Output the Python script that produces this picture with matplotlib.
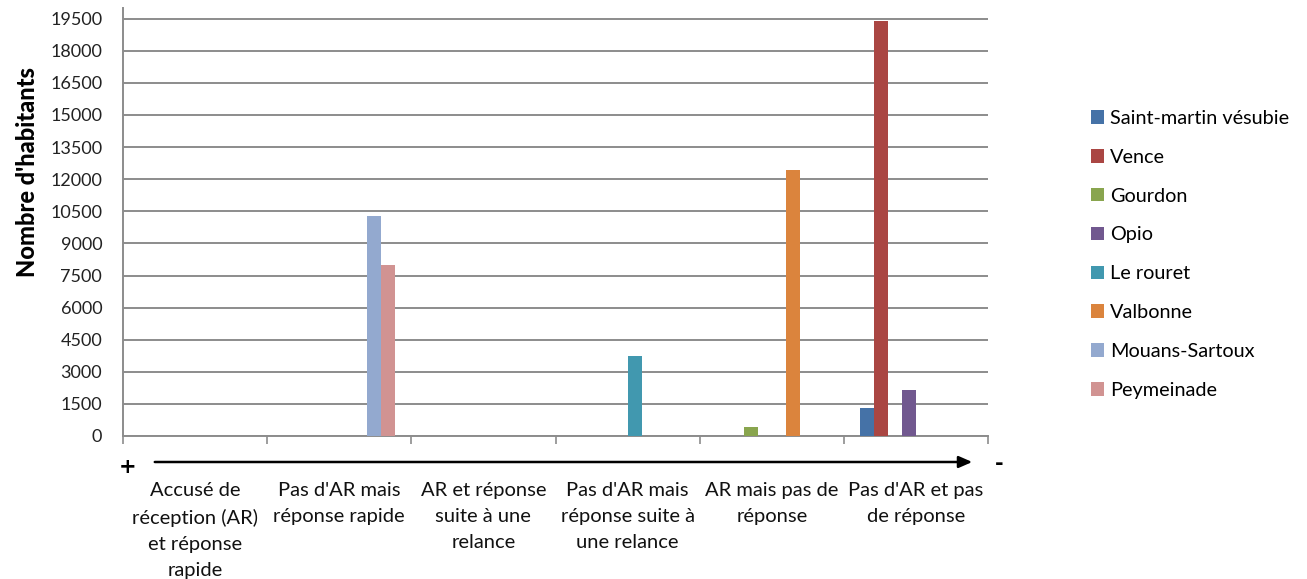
import matplotlib
matplotlib.use("Agg")
import matplotlib.pyplot as plt
import numpy as np

categories = [
    "Accusé de\nréception (AR)\net réponse\nrapide",
    "Pas d'AR mais\nréponse rapide",
    "AR et réponse\nsuite à une\nrelance",
    "Pas d'AR mais\nréponse suite à\nune relance",
    "AR mais pas de\nréponse",
    "Pas d'AR et pas\nde réponse",
]
communes = ["Saint-martin vésubie", "Vence", "Gourdon", "Opio",
            "Le rouret", "Valbonne", "Mouans-Sartoux", "Peymeinade"]
# inhabitants of each commune, placed in the category of its answer
saint_martin = [0, 0, 0, 0, 0, 1300]
vence = [0, 0, 0, 0, 0, 19400]
gourdon = [0, 0, 0, 0, 400, 0]
opio = [0, 0, 0, 0, 0, 2150]
le_rouret = [0, 0, 0, 3750, 0, 0]
valbonne = [0, 0, 0, 0, 12450, 0]
mouans = [0, 10300, 0, 0, 0, 0]
peymeinade = [0, 8000, 0, 0, 0, 0]
series = [saint_martin, vence, gourdon, opio, le_rouret, valbonne, mouans, peymeinade]
colors = ["#4572A7", "#AA4643", "#89A54E", "#71588F",
          "#4198AF", "#DB843D", "#93A9CF", "#D19392"]
yticks = list(range(0, 19501, 1500))

plt.rcParams["font.family"] = ["Lato", "DejaVu Sans"]

W, H = 1307, 579
fig = plt.figure(figsize=(W / 100, H / 100), dpi=100)
ax = fig.add_axes([123 / W, (H - 436) / H, (988 - 123) / W, (436 - 8) / H])

n = len(series)
bw = 1.0 / (n + 2.3)
x = np.arange(len(categories))
for i, (vals, col) in enumerate(zip(series, colors)):
    ax.bar(x + (i - (n - 1) / 2) * bw, vals, width=bw, color=col,
           label=communes[i], zorder=3)

ax.set_xlim(-0.5, len(categories) - 0.5)
ax.set_ylim(0, 20000)
ax.set_yticks(yticks)
ax.set_yticklabels([str(v) for v in yticks], fontsize=13, color="#222222")
ax.yaxis.grid(True, color="#8c8c8c", linewidth=1.4, zorder=0)
ax.tick_params(axis="y", length=0, pad=15)
ax.set_xticks(np.arange(-0.5, len(categories), 1.0))
ax.set_xticklabels([])
ax.tick_params(axis="x", length=6, width=1.2, color="#8c8c8c", direction="out")
for s in ["top", "right"]:
    ax.spines[s].set_visible(False)
for s in ["left", "bottom"]:
    ax.spines[s].set_color("#8c8c8c")
    ax.spines[s].set_linewidth(1.4)

fig.text(28 / W, 1 - 172 / H, "Nombre d'habitants", rotation=90,
         ha="center", va="center", fontsize=17, fontweight="black")

# category labels under the axis
for xi, lab in zip(x, categories):
    ax.text(xi, -0.108, lab, transform=ax.get_xaxis_transform(),
            ha="center", va="top", fontsize=14.5, linespacing=1.64,
            color="#111111")

# direction arrow from "+" to "-"
ay = 1 - 462 / H
fig.add_artist(matplotlib.patches.FancyArrowPatch(
    (152 / W, ay), (975 / W, ay), transform=fig.transFigure,
    arrowstyle="-|>,head_length=8,head_width=3.5", mutation_scale=1,
    color="black", linewidth=1.8))
fig.text(128 / W, 1 - 467 / H, "+", ha="center", va="center",
         fontsize=15, fontweight="bold", family=["DejaVu Sans"])
fig.text(999 / W, 1 - 464 / H, "-", ha="center", va="center",
         fontsize=15, fontweight="bold", family=["DejaVu Sans"])

leg = fig.legend(loc="upper left", bbox_to_anchor=(1083 / W, 1 - 102 / H),
                 frameon=False, fontsize=14.3, handlelength=0.68,
                 handleheight=0.68, handletextpad=0.3, labelspacing=1.1,
                 borderaxespad=0)

fig.savefig("out.png", dpi=100)
